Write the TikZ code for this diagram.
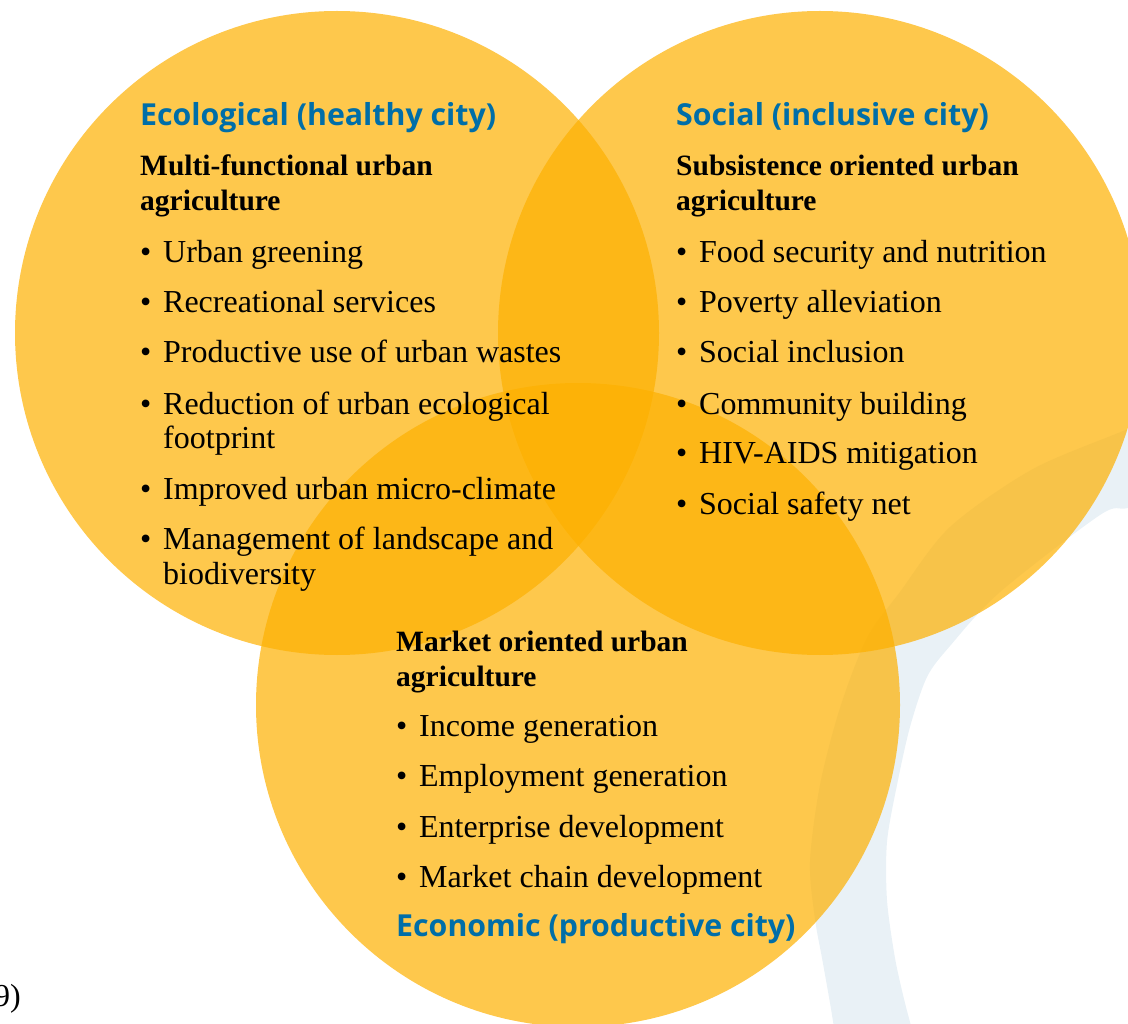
\documentclass[tikz,border=0pt]{standalone}
\usepackage{fontspec}
\setmainfont{Liberation Serif}
\newfontfamily\headfont{Open Sans}
\usetikzlibrary{positioning}
\definecolor{venn}{RGB}{253,176,0}
\definecolor{headblue}{RGB}{0,110,168}
\definecolor{mapblue}{RGB}{233,241,246}
\tikzstyle{circ} = [
    fill=venn,
    fill opacity=0.7
]
\tikzstyle{heading} = [
    anchor=base west,
    inner sep=0pt,
    text=headblue,
    font=\headfont\bfseries\fontsize{30.3}{36}\selectfont
]
% two-line nodes are anchored on the baseline of their last line
\tikzstyle{subhead} = [
    anchor=base west,
    inner sep=0pt,
    align=left,
    font=\bfseries\fontsize{29.5}{35}\selectfont
]
\tikzstyle{entry} = [
    anchor=base west,
    inner sep=0pt,
    align=left,
    font=\fontsize{32}{35}\selectfont
]
\newcommand{\itm}{\makebox[23pt][l]{\textbullet}}
\newcommand{\ind}{\hspace*{23pt}}

\begin{document}
\begin{tikzpicture}[x=1pt, y=-1pt]
    \useasboundingbox (0,0) rectangle (1128,1024);
    \clip (0,0) rectangle (1128,1024);

    % Map in the background
    \fill[mapblue] plot[smooth] coordinates {(1180,405) (1128,429) (1033,469) (950,527) (900,592)
        (867,638) (840,708) (820,785) (810,862) (815,919) (822,958) (830,1003) (836,1040)}
        -- plot[smooth] coordinates {(915,1040) (905,1003) (895,958) (887,900) (887,842) (897,785)
        (910,727) (927,677) (950,646) (1000,592) (1100,515) (1128,508) (1180,495)} -- cycle;

    % Circles
    \fill[circ] (337,333) circle[radius=322];
    \fill[circ] (820,333) circle[radius=322];
    \fill[circ] (578,705) circle[radius=322];

    % Ecological
    \node[heading] (ecohead) at (140,126) {Ecological (healthy city)};
    \node[subhead] (ecosub) at (140,211) {Multi-functional urban\\agriculture};
    \node[entry] (eco1) at (140,263) {\itm Urban greening};
    \node[entry] (eco2) at (140,313) {\itm Recreational services};
    \node[entry] (eco3) at (140,363) {\itm Productive use of urban wastes};
    \node[entry] (eco4) at (140,449) {\itm Reduction of urban ecological\\\ind footprint};
    \node[entry] (eco5) at (140,499) {\itm Improved urban micro-climate};
    \node[entry] (eco6) at (140,584) {\itm Management of landscape and\\\ind biodiversity};

    % Social
    \node[heading] (sochead) at (676,126) {Social (inclusive city)};
    \node[subhead] (socsub) at (676,211) {Subsistence oriented urban\\agriculture};
    \node[entry] (soc1) at (676,263) {\itm Food security and nutrition};
    \node[entry] (soc2) at (676,313) {\itm Poverty alleviation};
    \node[entry] (soc3) at (676,363) {\itm Social inclusion};
    \node[entry] (soc4) at (676,414) {\itm Community building};
    \node[entry] (soc5) at (676,464) {\itm HIV-AIDS mitigation};
    \node[entry] (soc6) at (676,514) {\itm Social safety net};

    % Economic
    \node[subhead] (ecnsub) at (396,686) {Market oriented urban\\agriculture};
    \node[entry] (ecn1) at (396,736) {\itm Income generation};
    \node[entry] (ecn2) at (396,786) {\itm Employment generation};
    \node[entry] (ecn3) at (396,837) {\itm Enterprise development};
    \node[entry] (ecn4) at (396,887) {\itm Market chain development};
    \node[heading] (ecnhead) at (396,936) {Economic (productive city)};

    % Cut-off source note
    \node[entry, anchor=base east] (note) at (21,1006) {9)};
\end{tikzpicture}
\end{document}
